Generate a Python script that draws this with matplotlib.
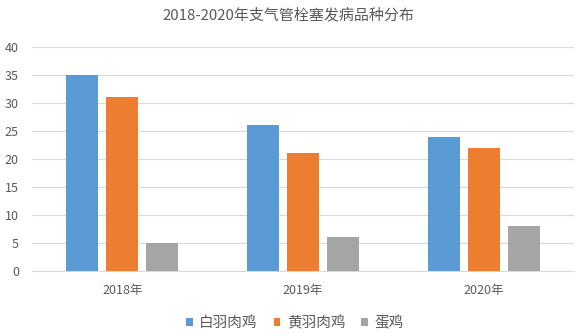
import matplotlib
matplotlib.use("Agg")
import matplotlib.pyplot as plt
import numpy as np

plt.rcParams['font.family'] = ['Noto Sans CJK SC', 'DejaVu Sans']

categories = ['2018年', '2019年', '2020年']
series_names = ['白羽肉鸡', '黄羽肉鸡', '蛋鸡']
white = [35, 26, 24]
yellow = [31, 21, 22]
layer = [5, 6, 8]
colors = ['#5B9BD5', '#ED7D31', '#A5A5A5']
yticks = [0, 5, 10, 15, 20, 25, 30, 35, 40]

fig = plt.figure(figsize=(5.76, 3.36), dpi=100)
ax = fig.add_axes([32/576, 1-271/336, 542/576, 224/336])

x = np.arange(len(categories))
w = 0.177
off = 0.222
for i, (vals, name) in enumerate(zip([white, yellow, layer], series_names)):
    ax.bar(x + (i - 1) * off, vals, width=w, color=colors[i], label=name, zorder=3)

ax.set_xlim(-0.5, 2.5)
ax.set_ylim(0, 40)
ax.set_yticks(yticks)
ax.set_xticks(x)
ax.set_xticklabels(categories)
ax.yaxis.grid(True, color='#D9D9D9', linewidth=0.8, zorder=0)
for s in ['top', 'right', 'left']:
    ax.spines[s].set_visible(False)
ax.spines['bottom'].set_color('#D9D9D9')
ax.tick_params(axis='both', length=0, colors='#595959', labelsize=9)
ax.tick_params(axis='y', pad=9.4)
ax.tick_params(axis='x', pad=9.5)

fig.text(0.5, 1-15/336, '2018-2020年支气管栓塞发病品种分布', ha='center', va='center',
         fontsize=10.8, color='#595959')

leg = fig.legend(loc='center', bbox_to_anchor=(295/576, 1-323/336), ncol=3, frameon=False,
                 fontsize=10.5, handlelength=0.45, handleheight=0.45, handletextpad=0.45,
                 columnspacing=1.1, borderpad=0)
for t in leg.get_texts():
    t.set_color('#595959')

fig.savefig('out.png', dpi=100)
